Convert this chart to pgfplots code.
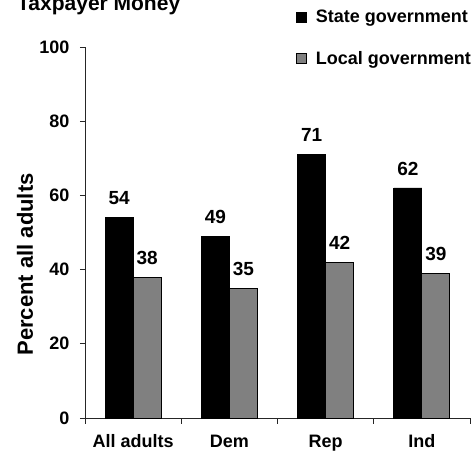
\documentclass[border=0pt]{standalone}
\usepackage{pgfplots}
\pgfplotsset{compat=1.18}
\usepackage{fontspec}
\setmainfont{Liberation Sans}
\definecolor{bargray}{HTML}{808080}
\begin{document}
\begin{tikzpicture}
\useasboundingbox (-85pt,-34pt) rectangle (389pt,418pt);
\begin{axis}[
  scale only axis, width=385pt, height=371pt,
  xmin=0.5, xmax=4.5, ymin=0, ymax=100,
  axis lines=left, axis line style={-, line width=0.8pt, black!85},
  ybar=0pt, bar width=28pt,
  xtick={1,2,3,4}, xticklabels={All adults,Dem,Rep,Ind},
  minor xtick={0.5,1.5,2.5,3.5,4.5},
  major x tick style={draw=none},
  minor x tick style={black!85, line width=0.8pt},
  ytick={0,20,40,60,80,100},
  y tick style={black!85, line width=0.8pt},
  tick align=outside, major tick length=5pt, minor tick length=6pt,
  ticklabel style={font=\bfseries\fontsize{18}{21}\selectfont},
  yticklabel style={xshift=-7pt},
  xticklabel style={anchor=north, text height=13pt, text depth=4pt, yshift=-8pt},
  /pgf/number format/assume math mode=true,
  ylabel={Percent all adults},
  ylabel style={font=\bfseries\fontsize{22}{26}\selectfont, at={(axis description cs:-0.156,0.414)}, anchor=center},
  nodes near coords,
  nodes near coords style={font=\bfseries\fontsize{19}{22}\selectfont, anchor=south, yshift=9pt, text=black},
  legend style={draw=none, fill=none, at={(axis description cs:0.54,1.11)}, anchor=north west,
    font=\bfseries\fontsize{18}{21}\selectfont, row sep=23pt},
  legend cell align=left,
  clip=false,
]
\addplot[fill=black, draw=black, line width=0.8pt,
  legend image code/.code={\draw[fill=black,draw=black,line width=0.8pt] (0pt,-5pt) rectangle (10pt,5pt); \path (17pt,0pt);}]
  coordinates {(1,54) (2,49) (3,71) (4,62)};
\addlegendentry{State government}
\addplot[fill=bargray, draw=black, line width=0.8pt,
  legend image code/.code={\draw[fill=bargray,draw=black,line width=0.8pt] (0pt,-5pt) rectangle (10pt,5pt); \path (17pt,0pt);}]
  coordinates {(1,38) (2,35) (3,42) (4,39)};
\addlegendentry{Local government}
\end{axis}
\node[anchor=base west, inner sep=0pt, font=\bfseries\fontsize{21}{25}\selectfont] at (-68pt,407pt) {Taxpayer Money};
\end{tikzpicture}
\end{document}
